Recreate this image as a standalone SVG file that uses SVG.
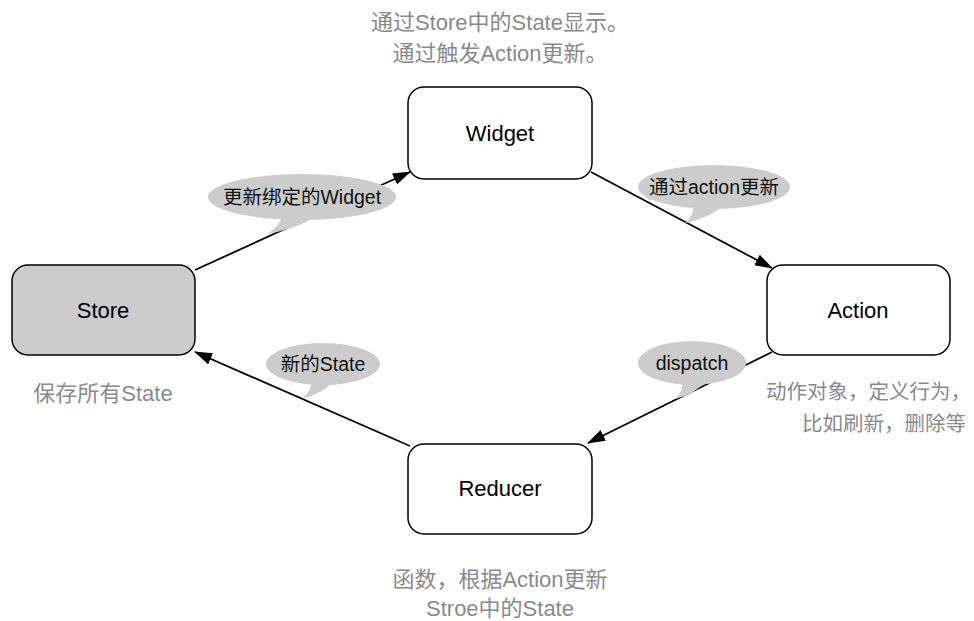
<svg xmlns="http://www.w3.org/2000/svg" width="974" height="621" viewBox="0 0 974 621">
<defs>
<style>
.box{fill:#ffffff;stroke:#000;stroke-width:1.5}
.store{fill:#cccccc;stroke:#000;stroke-width:1.5}
.lbl{font-family:"Liberation Sans","Noto Sans CJK SC",sans-serif;font-size:22px;fill:#000;text-anchor:middle}
.bub{fill:#cccccc}
.btxt{font-family:"Liberation Sans","Noto Sans CJK SC",sans-serif;font-size:19.5px;fill:#111;text-anchor:middle}
.note{font-family:"Liberation Sans","Noto Sans CJK SC",sans-serif;font-size:22px;fill:#8a8a8a;text-anchor:middle}
.note-r{font-family:"Liberation Sans","Noto Sans CJK SC",sans-serif;font-size:20.5px;fill:#8a8a8a;text-anchor:end}
.con{stroke:#000;stroke-width:1.8;fill:none;marker-end:url(#ah)}
</style>
<marker id="ah" viewBox="0 0 18 12" refX="17" refY="6" markerWidth="18" markerHeight="12" markerUnits="userSpaceOnUse" orient="auto">
<path d="M0,0 L18,6 L0,12 Z" fill="#000"/>
</marker>
</defs>
<rect width="974" height="621" fill="#fff"/>
<g id="connectors">
<line class="con" x1="195" y1="270" x2="410" y2="172"/>
<line class="con" x1="591" y1="172" x2="772" y2="268"/>
<line class="con" x1="772" y1="352" x2="588" y2="443"/>
<line class="con" x1="410" y1="446" x2="195" y2="352"/>
</g>
<g id="bubble-update-widget">
<path class="bub" d="M282,217 Q278,228 266,234 Q292,230 314,218 Z"/>
<ellipse class="bub" cx="302" cy="197" rx="94" ry="23"/>
<text class="btxt" x="302" y="204">更新绑定的Widget</text>
</g>
<g id="bubble-action-update">
<path class="bub" d="M693,206 Q694,216 685,223 Q706,219 722,207 Z"/>
<ellipse class="bub" cx="714" cy="187" rx="76" ry="22"/>
<text class="btxt" x="714" y="194">通过action更新</text>
</g>
<g id="bubble-new-state">
<path class="bub" d="M312,381 Q311,391 303,398 Q322,394 333,382 Z"/>
<ellipse class="bub" cx="323" cy="364" rx="57" ry="21"/>
<text class="btxt" x="323" y="371">新的State</text>
</g>
<g id="bubble-dispatch">
<path class="bub" d="M683,380 Q683,392 675,399 Q694,395 706,381 Z"/>
<ellipse class="bub" cx="692" cy="363" rx="54" ry="22"/>
<text class="btxt" x="692" y="370">dispatch</text>
</g>
<g id="widget">
<rect class="box" x="408" y="87" width="184" height="92" rx="16"/>
<text class="lbl" x="500" y="141">Widget</text>
</g>
<g id="store">
<rect class="store" x="12" y="265" width="183" height="90" rx="16"/>
<text class="lbl" x="103" y="318">Store</text>
</g>
<g id="action">
<rect class="box" x="767" y="265" width="183" height="90" rx="16"/>
<text class="lbl" x="858" y="318">Action</text>
</g>
<g id="reducer">
<rect class="box" x="408" y="444" width="184" height="90" rx="16"/>
<text class="lbl" x="500" y="496">Reducer</text>
</g>
<g id="notes">
<text class="note" x="500" y="30">通过Store中的State显示。</text>
<text class="note" x="500" y="61">通过触发Action更新。</text>
<text class="note" x="103" y="401">保存所有State</text>
<text class="note-r" x="971" y="399">动作对象，定义行为，</text>
<text class="note-r" x="966" y="431">比如刷新，删除等</text>
<text class="note" x="500" y="587">函数，根据Action更新</text>
<text class="note" x="500" y="616">Stroe中的State</text>
</g>
</svg>
